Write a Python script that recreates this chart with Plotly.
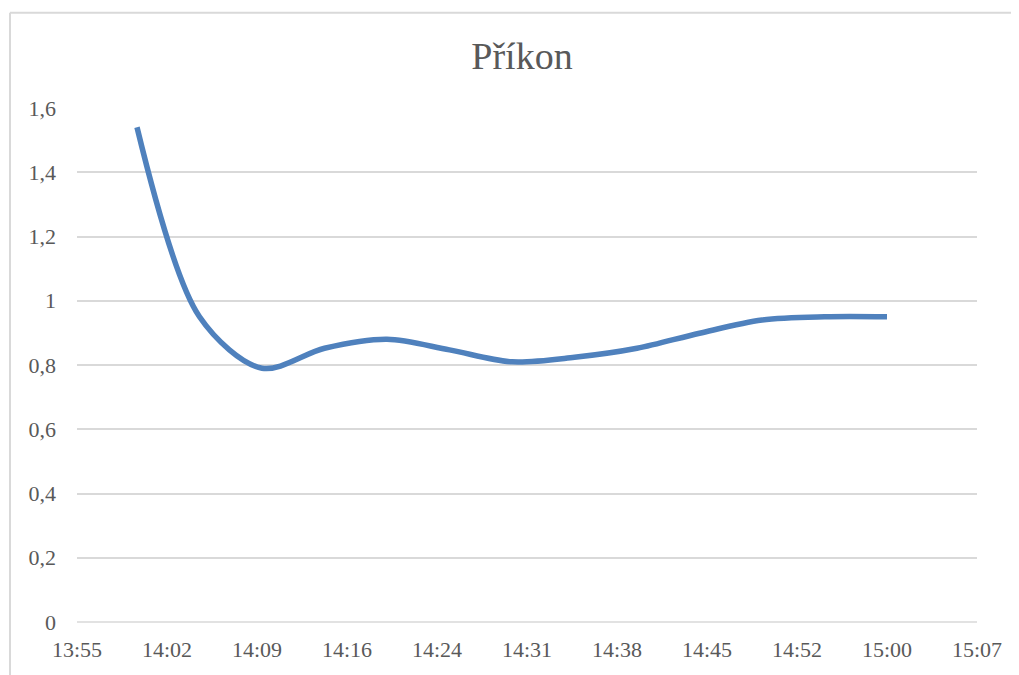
import plotly.graph_objects as go

# ---- data ----
times = ["14:00", "14:05", "14:10", "14:15", "14:20", "14:25", "14:30",
         "14:35", "14:40", "14:45", "14:50", "14:55", "15:00"]
values = [1.54, 0.95, 0.79, 0.852, 0.88, 0.847, 0.81,
          0.824, 0.852, 0.899, 0.94, 0.95, 0.95]

x_tick_times = ["13:55:12", "14:02:24", "14:09:36", "14:16:48", "14:24:00", "14:31:12",
                "14:38:24", "14:45:36", "14:52:48", "15:00:00", "15:07:12"]
x_tick_labels = ["13:55", "14:02", "14:09", "14:16", "14:24", "14:31",
                 "14:38", "14:45", "14:52", "15:00", "15:07"]
y_tick_vals = [0, 0.2, 0.4, 0.6, 0.8, 1.0, 1.2, 1.4, 1.6]
y_tick_labels = ["0", "0,2", "0,4", "0,6", "0,8", "1", "1,2", "1,4", "1,6"]
title_text = "Příkon"

DAY = "2024-01-01 "
xs = [DAY + t for t in times]
xtv = [DAY + t for t in x_tick_times]

FONT = "Liberation Serif, Times New Roman, serif"
GREY = "#595959"
GRID = "#d9d9d9"

OFF = 8  # page body margin
W, H = 1019 - OFF, 675 - OFF

fig = go.Figure()
fig.add_trace(go.Scatter(
    x=xs, y=values, mode="lines",
    line=dict(color="#4f81bd", width=5.5, shape="spline", smoothing=0.9),
    showlegend=False, hoverinfo="x+y",
))

px_x = lambda p: (p - 77) / 900
px_y = lambda p: (622 - p) / 514

fig.update_layout(
    width=W, height=H,
    margin=dict(l=77 - OFF, r=W - (977 - OFF), t=108 - OFF, b=H - (622 - OFF)),
    paper_bgcolor="white", plot_bgcolor="white",
    title=dict(text=title_text, x=(522 - OFF) / W, xref="container", xanchor="center",
               y=1 - (56 - OFF) / H, yref="container", yanchor="middle",
               font=dict(family=FONT, size=38, color=GREY)),
    font=dict(family=FONT, color=GREY),
    xaxis=dict(
        type="date", range=[xtv[0], xtv[-1]],
        tickvals=xtv, ticktext=x_tick_labels,
        showgrid=False, zeroline=False, showline=False, ticks="",
        tickfont=dict(family=FONT, size=22, color=GREY),
        ticklabelstandoff=12,
    ),
    yaxis=dict(
        range=[0, 1.6], tickvals=y_tick_vals, ticktext=y_tick_labels,
        showgrid=True, gridcolor=GRID, gridwidth=1.5,
        zeroline=False, showline=False, ticks="",
        tickfont=dict(family=FONT, size=22, color=GREY),
        ticklabelstandoff=20,
    ),
    shapes=[
        dict(type="line", xref="paper", yref="paper",
             x0=0, x1=1, y0=0, y1=0, line=dict(color=GRID, width=1.5), layer="below"),
        dict(type="line", xref="paper", yref="paper",
             x0=px_x(10), x1=px_x(1030), y0=px_y(12.7), y1=px_y(12.7),
             line=dict(color=GRID, width=2), layer="below"),
        dict(type="line", xref="paper", yref="paper",
             x0=px_x(10), x1=px_x(10), y0=px_y(12.7), y1=px_y(700),
             line=dict(color=GRID, width=2), layer="below"),
    ],
)

fig.write_html("out.html")
